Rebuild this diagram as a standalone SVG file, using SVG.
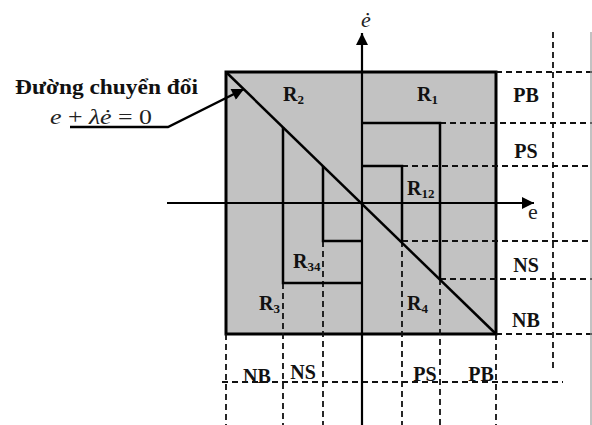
<svg xmlns="http://www.w3.org/2000/svg" width="592" height="425" viewBox="0 0 592 425">
<style>
.sq{fill:#c2c2c2;stroke:#000;stroke-width:3}
.s{stroke:#000;stroke-width:2.5;fill:none}
.ax{stroke:#000;stroke-width:2.2;fill:none}
.d{stroke:#111;stroke-width:1.8;stroke-dasharray:6 4;fill:none}
.lb{font-family:"Liberation Serif","Times New Roman",serif;font-weight:bold;font-size:20px;fill:#111}
.sub{font-size:13px}
.it{font-family:"Liberation Serif","Times New Roman",serif;font-style:italic;font-size:22px;fill:#222}
</style>
<defs>
<marker id="ah" viewBox="0 0 10 10" refX="10" refY="5" markerWidth="13" markerHeight="12" markerUnits="userSpaceOnUse" orient="auto">
<path d="M0,0 L10,5 L0,10 z" fill="#000"/>
</marker>
</defs>
<rect width="592" height="425" fill="#fff"/>
<g id="region">
<rect class="sq" x="226" y="72" width="270" height="262"/>
</g>
<g id="connectors">
<path class="d" d="M496,72 H592 M440,123 H592 M402,166 H592 M402,241 H592 M440,279 H592 M496,334 H592"/>
<path class="d" d="M226,334 V425 M283,283 V425 M323,241 V425 M402,241 V425 M440,279 V425 M496,334 V425"/>
<path class="d" d="M553,32 V368 M222,382 H563"/>
<line x1="591" y1="32" x2="591" y2="425" stroke="#999" stroke-width="1.2"/>
<path class="s" d="M362,166 H402 V241"/>
<path class="s" d="M362,123 H440 V279"/>
<path class="s" d="M323,166 V241 H362"/>
<path class="s" d="M283,127 V283 H362"/>
<line class="s" x1="226" y1="72" x2="496" y2="334" stroke-width="2.8"/>
<line class="ax" x1="167" y1="203" x2="534" y2="203" marker-end="url(#ah)"/>
<line class="ax" x1="362" y1="425" x2="362" y2="33" marker-end="url(#ah)"/>
<polyline class="s" points="70,127 168,127 244,89" marker-end="url(#ah)"/>
</g>
<g id="labels">
<text class="lb" x="15" y="94" font-size="22" textLength="183" lengthAdjust="spacingAndGlyphs">Đường chuyển đổi</text>
<text class="it" x="50" y="124" textLength="102" lengthAdjust="spacingAndGlyphs">e<tspan font-style="normal"> + </tspan>λė<tspan font-style="normal"> = 0</tspan></text>
<text class="it" x="366" y="27" text-anchor="middle">ė</text>
<text x="533" y="219" text-anchor="middle" font-family="Liberation Serif, serif" font-size="22" fill="#222">e</text>
<text class="lb" x="283" y="101">R<tspan class="sub" dy="3">2</tspan></text>
<text class="lb" x="417" y="101">R<tspan class="sub" dy="3">1</tspan></text>
<text class="lb" x="407" y="195">R<tspan class="sub" dy="3">12</tspan></text>
<text class="lb" x="293" y="268">R<tspan class="sub" dy="3">34</tspan></text>
<text class="lb" x="259" y="310">R<tspan class="sub" dy="3">3</tspan></text>
<text class="lb" x="407" y="310">R<tspan class="sub" dy="3">4</tspan></text>
<text class="lb" x="526" y="102" text-anchor="middle">PB</text>
<text class="lb" x="526" y="158" text-anchor="middle">PS</text>
<text class="lb" x="526" y="272" text-anchor="middle">NS</text>
<text class="lb" x="526" y="327" text-anchor="middle">NB</text>
<text class="lb" x="257" y="383" text-anchor="middle">NB</text>
<text class="lb" x="303" y="379" text-anchor="middle">NS</text>
<text class="lb" x="425" y="381" text-anchor="middle">PS</text>
<text class="lb" x="481" y="381" text-anchor="middle">PB</text>
</g>
</svg>
